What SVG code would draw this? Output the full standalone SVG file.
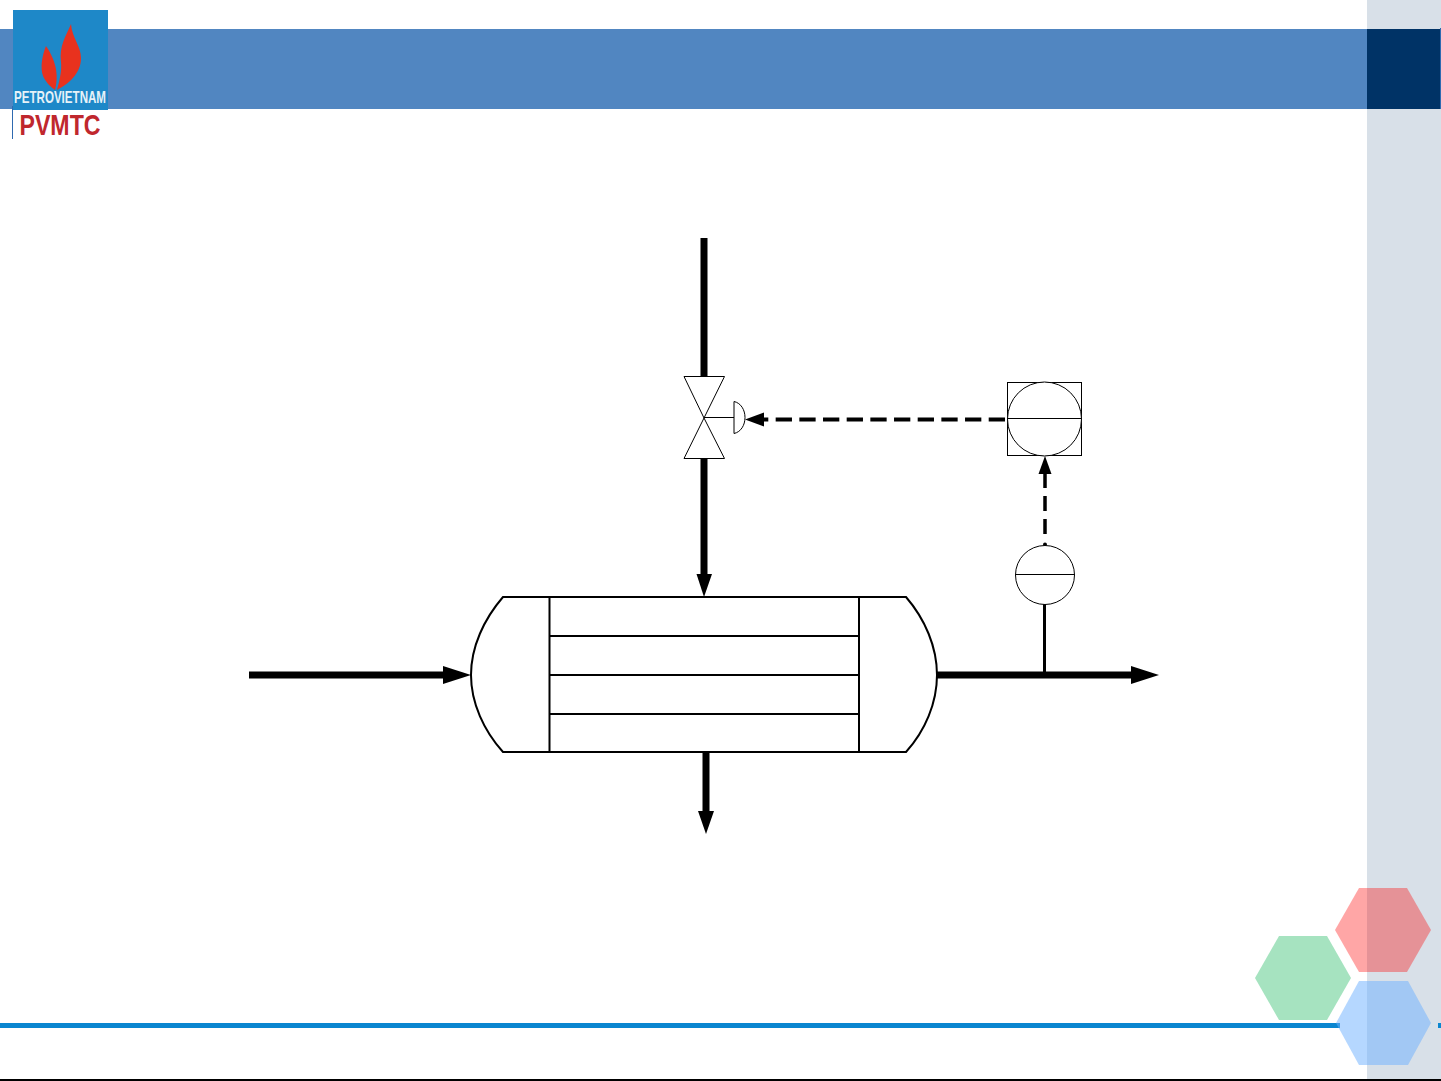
<svg xmlns="http://www.w3.org/2000/svg" width="1441" height="1081" viewBox="0 0 1441 1081">
<style>
.o{fill:#fff;stroke:#000;stroke-width:1}
.t{fill:none;stroke:#000;stroke-width:2}
.p{fill:none;stroke:#000;stroke-width:7}
.h{fill:#000}
.i{fill:none;stroke:#000;stroke-width:1}
</style>
<rect width="1441" height="1081" fill="#fff"/>
<g id="background">
<rect x="1367" y="0" width="74" height="1081" fill="#d8e0e8"/>
<rect x="0" y="29" width="1367" height="80" fill="#5186c1"/>
<rect x="1367" y="29" width="73" height="80" fill="#003366"/>
<rect x="1440" y="28" width="1" height="81" fill="#2f6ab0"/>
<rect x="0" y="1023" width="1340" height="5" fill="#0a86d0"/>
<rect x="1438" y="1023" width="3" height="5" fill="#0a86d0"/>
<rect x="0" y="1079" width="1441" height="2" fill="#000"/>
</g>
<g id="logo">
<rect x="13" y="10" width="95" height="100" fill="#1e88c8"/>
<path d="M71 24C66 36 59 46 61 62C62 72 59 82 57 90C68 84 81 74 81 58C81 46 72 38 71 24Z" fill="#e8321e"/>
<path d="M46 46C42 56 40 68 43 76C46 83 52 88 55 90C58 78 58 64 46 46Z" fill="#e8321e"/>
<text x="60" y="103" text-anchor="middle" font-family="'Liberation Sans',sans-serif" font-size="17" font-weight="bold" fill="#e6f2f8" textLength="92" lengthAdjust="spacingAndGlyphs">PETROVIETNAM</text>
<rect x="12" y="106" width="1" height="33" fill="#2f6ab0"/>
<text x="60" y="135" text-anchor="middle" font-family="'Liberation Sans',sans-serif" font-size="30" font-weight="bold" fill="#c0272d" textLength="81" lengthAdjust="spacingAndGlyphs">PVMTC</text>
</g>
<g id="connectors">
<path class="p" d="M704 238V377"/>
<path class="p" d="M704 458V576"/>
<path class="h" d="M696.500 574H712L704 597Z"/>
<path class="p" d="M249 675H446"/>
<path class="h" d="M443 666L471 675L443 684Z"/>
<path class="p" d="M937 675H1133"/>
<path class="h" d="M1131 666L1159 675L1131 684Z"/>
<path class="p" d="M706 752V813"/>
<path class="h" d="M698 811H714L706 834Z"/>
<path class="t" d="M1044.500 604V675" style="stroke-width:3"/>
<path d="M1005 419.500H752" fill="none" stroke="#000" stroke-width="4" stroke-dasharray="16.300 7.370"/>
<path class="h" d="M745 419.500L764 412.500V426.500Z"/>
<path d="M1045 534V473" fill="none" stroke="#000" stroke-width="3.500" stroke-dasharray="15 8"/>
<path class="h" d="M1045 456L1051.500 474H1038.500Z"/>
<circle class="h" cx="1045" cy="544.500" r="2"/>
</g>
<g id="exchanger">
<path d="M503 597H906C925 619 937 647 937 675C937 703 925 731 906 752H503C484 731 471 703 471 675C471 647 484 619 503 597Z" fill="#fff" stroke="#000" stroke-width="2"/>
<path class="t" d="M549.500 597V752M859 597V752M549.500 636H859M549.500 675H859M549.500 714H859"/>
</g>
<g id="control-valve">
<path class="o" d="M684 376.500H724.500L704 418L684 458.500H724.500L704 418Z" stroke="#333"/>
<path class="i" d="M704 417.500H734"/>
<path class="o" d="M734 401.500C741 403 745 410 745 417.500C745 425 741 432 734 433.500Z"/>
</g>
<g id="controller">
<rect class="o" x="1007.500" y="382.500" width="74" height="73"/>
<circle class="o" cx="1044.500" cy="419" r="37"/>
<path class="i" d="M1007.500 418.500H1081.500"/>
</g>
<g id="transmitter">
<circle class="o" cx="1045" cy="575" r="29.500"/>
<path class="i" d="M1015.500 574.500H1074.500"/>
</g>
<g id="hexagons">
<path d="M1279 936H1327L1351 978L1327 1020H1279L1255 978Z" fill="#a6e3c0"/>
<path d="M1359 888H1407L1431 930L1407 972H1359L1335 930Z" fill="#ff0000" fill-opacity=".35"/>
<path d="M1359 981H1408L1431 1023L1408 1065H1359L1336 1023Z" fill="#6bb0ff" fill-opacity=".5"/>
</g>
</svg>
